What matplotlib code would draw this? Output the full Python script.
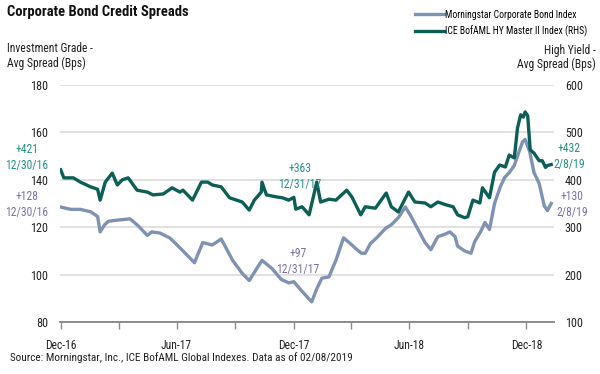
import numpy as np
import pandas as pd
import matplotlib
matplotlib.use("Agg")
import matplotlib.pyplot as plt
from matplotlib import font_manager

# Morningstar Corporate Bond Index (investment grade, left axis)
ig_dates = ["2016-12-30", "2017-01-15", "2017-01-30", "2017-02-15", "2017-02-26", "2017-03-02",
            "2017-03-09", "2017-03-15", "2017-03-30", "2017-04-18", "2017-05-01", "2017-05-15",
            "2017-05-22", "2017-06-04", "2017-06-19", "2017-06-27", "2017-07-10", "2017-07-28",
            "2017-08-10", "2017-08-25", "2017-09-08", "2017-09-26", "2017-10-11", "2017-10-22",
            "2017-11-11", "2017-11-27", "2017-12-11", "2017-12-23", "2017-12-31", "2018-01-11",
            "2018-01-28", "2018-02-05", "2018-02-13", "2018-02-24", "2018-03-07", "2018-03-19",
            "2018-03-30", "2018-04-07", "2018-04-16", "2018-04-22", "2018-04-30", "2018-05-10",
            "2018-05-24", "2018-06-02", "2018-06-13", "2018-06-24", "2018-07-02", "2018-07-14",
            "2018-07-25", "2018-08-03", "2018-08-14", "2018-08-25", "2018-09-02", "2018-09-10",
            "2018-09-14", "2018-09-25", "2018-10-05", "2018-10-11", "2018-10-20", "2018-10-27",
            "2018-11-03", "2018-11-11", "2018-11-20", "2018-11-27", "2018-12-04", "2018-12-12",
            "2018-12-17", "2018-12-25", "2018-12-29", "2019-01-05", "2019-01-12", "2019-01-20",
            "2019-01-28", "2019-02-02", "2019-02-08"]
ig_vals = [128.5, 127.5, 127.5, 126.5, 124.5, 118, 121, 122.5, 123, 123.5, 120.5, 116.5,
           118, 117.5, 115.5, 113.5, 110, 105, 113.5, 112.5, 115, 106, 100.5, 97.5,
           106, 102.5, 98, 96.5, 97, 93.5, 88.5, 94, 98.5, 99, 106, 115.5,
           113, 111, 109, 109, 113, 115.5, 119.5, 121, 124, 128.5, 125, 119,
           113.5, 110.5, 116, 117, 118, 116, 112, 110, 109, 114, 118, 122,
           119, 130, 137, 141, 143, 146, 150, 156, 157, 152, 143, 138.5,
           129, 127, 130]

# ICE BofAML HY Master II Index (high yield, right axis)
hy_dates = ["2016-12-30", "2017-01-04", "2017-01-19", "2017-01-30", "2017-02-15", "2017-02-26",
            "2017-03-02", "2017-03-10", "2017-03-21", "2017-03-29", "2017-04-06", "2017-04-15",
            "2017-04-29", "2017-05-15", "2017-05-24", "2017-06-09", "2017-06-23", "2017-07-05",
            "2017-07-10", "2017-07-25", "2017-08-08", "2017-08-18", "2017-08-25", "2017-09-08",
            "2017-09-21", "2017-10-11", "2017-10-22", "2017-10-30", "2017-11-10", "2017-11-11",
            "2017-11-18", "2017-12-03", "2017-12-13", "2017-12-23", "2017-12-31", "2018-01-03",
            "2018-01-13", "2018-01-24", "2018-02-05", "2018-02-11", "2018-02-24", "2018-03-07",
            "2018-03-24", "2018-04-01", "2018-04-15", "2018-04-22", "2018-05-08", "2018-05-25",
            "2018-06-02", "2018-06-13", "2018-06-29", "2018-07-09", "2018-07-25", "2018-08-03",
            "2018-08-14", "2018-08-27", "2018-09-07", "2018-09-14", "2018-09-25", "2018-09-30",
            "2018-10-08", "2018-10-19", "2018-10-23", "2018-11-03", "2018-11-11", "2018-11-19",
            "2018-11-28", "2018-12-04", "2018-12-12", "2018-12-17", "2018-12-22", "2018-12-26",
            "2018-12-29", "2019-01-02", "2019-01-06", "2019-01-12", "2019-01-20", "2019-01-25",
            "2019-01-30", "2019-02-02", "2019-02-08"]
hy_vals = [421, 404, 404, 395, 385, 380, 357, 395, 414, 389, 400, 404,
           378, 374, 368, 370, 383, 374, 378, 357, 395, 395, 389, 385,
           362, 353, 336, 357, 374, 395, 368, 364, 362, 357, 363, 338,
           343, 326, 395, 353, 359, 357, 378, 364, 326, 343, 340, 372,
           343, 332, 374, 353, 351, 343, 353, 347, 343, 326, 320, 322,
           357, 351, 383, 362, 416, 431, 427, 452, 446, 509, 537, 532,
           543, 535, 463, 456, 440, 440, 426, 430, 432]

x_tick_labels = ["Dec-16", "Jun-17", "Dec-17", "Jun-18", "Dec-18"]
x_tick_dates = ["2016-12-31", "2017-06-30", "2017-12-31", "2018-06-30", "2018-12-31"]
x_minor_dates = ["2017-03-31", "2017-09-30", "2018-03-31", "2018-09-30"]

IG_COLOR = "#7e92b3"
HY_COLOR = "#0c5f57"
HY_TEXT = "#23918a"
IG_TEXT = "#7b70a6"
TXT = "#222222"

# a narrow sans face if one is around, otherwise plain Liberation Sans
installed = {f.name for f in font_manager.fontManager.ttflist}
base = "Liberation Sans"
for name in ["Liberation Sans Narrow", "Roboto Condensed", "DejaVu Sans Condensed"]:
    if name in installed:
        base = name
        break
plt.rcParams["font.family"] = [base, "DejaVu Sans"]

fig = plt.figure(figsize=(6, 3.74), dpi=100)
ax = fig.add_axes([0.1, 0.139, 0.823, 0.634])
ax2 = ax.twinx()

ig_x = pd.to_datetime(ig_dates)
hy_x = pd.to_datetime(hy_dates)

l1, = ax.plot(ig_x, ig_vals, color=IG_COLOR, lw=2.4, solid_joinstyle="round",
              label="Morningstar Corporate Bond Index", zorder=3)
l2, = ax2.plot(hy_x, hy_vals, color=HY_COLOR, lw=2.4, solid_joinstyle="round",
               label="ICE BofAML HY Master II Index (RHS)", zorder=3)

ax.set_ylim(80, 180)
ax.set_yticks(np.arange(80, 181, 20))
ax2.set_ylim(100, 600)
ax2.set_yticks(np.arange(100, 601, 100))
ax.set_xlim(pd.Timestamp("2016-12-29"), pd.Timestamp("2019-02-12"))

ax.grid(axis="y", color="#d9d9d9", lw=1.1)
ax.set_axisbelow(True)

for a in (ax, ax2):
    for s in ("top", "left", "right"):
        a.spines[s].set_visible(False)
    a.spines["bottom"].set_color("#8c8c8c")
    a.spines["bottom"].set_linewidth(1.2)

ax.set_xticks(pd.to_datetime(x_tick_dates))
ax.set_xticklabels(x_tick_labels)
ax.set_xticks(pd.to_datetime(x_minor_dates), minor=True)
ax.tick_params(axis="x", which="both", direction="out", length=5, width=1,
               color="#8c8c8c", labelsize=8.3, pad=7, labelcolor=TXT)
ax.tick_params(axis="y", length=0, labelsize=8.7, pad=8.5, labelcolor=TXT)
ax2.tick_params(axis="y", length=0, labelsize=8.7, pad=8, labelcolor=TXT)

fig.text(0.012, 0.957, "Corporate Bond Credit Spreads", fontsize=10.5, fontweight="bold",
         color="#111111", va="baseline")

# axis titles, one line each
fig.text(0.012, 0.861, "Investment Grade -", fontsize=8.4, color=TXT, va="baseline")
fig.text(0.012, 0.821, "Avg Spread (Bps)", fontsize=8.4, color=TXT, va="baseline")
fig.text(0.993, 0.856, "High Yield -", fontsize=8.4, color=TXT, va="baseline", ha="right")
fig.text(0.993, 0.818, "Avg Spread (Bps)", fontsize=8.4, color=TXT, va="baseline", ha="right")

fig.legend(handles=[l1, l2], loc="upper left", bbox_to_anchor=(0.685, 0.984),
           frameon=False, fontsize=6.9, handlelength=3.0, handletextpad=0.15,
           labelspacing=0.6, borderaxespad=0)

# value callouts
callout = dict(fontsize=8.4, ha="center", va="center", linespacing=1.3)
fig.text(0.045, 0.58, "+421\n12/30/16", color=HY_TEXT, **callout)
fig.text(0.045, 0.452, "+128\n12/30/16", color=IG_TEXT, **callout)
fig.text(0.5, 0.527, "+363\n12/31/17", color=HY_TEXT, **callout)
fig.text(0.497, 0.302, "+97\n12/31/17", color=IG_TEXT, **callout)
fig.text(0.948, 0.582, "+432\n2/8/19", color=HY_TEXT, **callout)
fig.text(0.953, 0.454, "+130\n2/8/19", color=IG_TEXT, **callout)

fig.text(0.017, 0.036, "Source: Morningstar, Inc., ICE BofAML Global Indexes. Data as of 02/08/2019",
         fontsize=8.1, color=TXT)

fig.savefig("out.png", dpi=100)
